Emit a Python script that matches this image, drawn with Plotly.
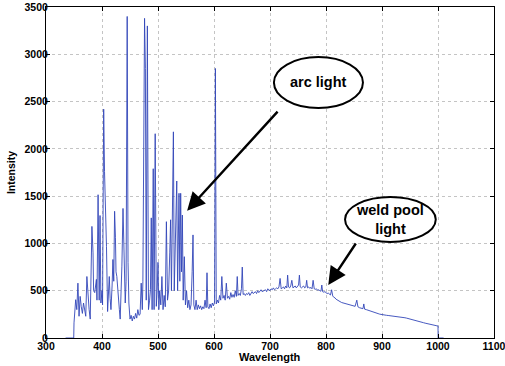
import plotly.graph_objects as go

# Spectrum data (wavelength nm, intensity)
wavelength = [335, 349.5, 350, 352, 353, 355, 357, 359, 361, 363, 365, 367, 369, 371, 373, 375, 377, 379, 380,
              382, 384, 385, 387, 389, 390, 391, 393, 395, 396.5, 398, 400, 401, 403, 404.5, 406.5, 408, 410,
              411.5, 413, 414.5, 416, 418, 419.5, 421, 422.5, 424, 425, 426.5, 428, 429.5, 431, 432.5, 434,
              435.5, 437.5, 439.5, 441.5, 443, 445, 446.5, 448, 450, 452, 454, 456, 458, 460, 462, 464, 466,
              468, 470, 472, 473, 474.5, 476, 477.5, 479, 481, 483, 485, 486.5, 488, 489.5, 491.5, 493, 495,
              497, 498.5, 500, 501.5, 503, 505, 507, 509, 511, 513, 515, 517, 519, 521, 522.5, 524, 526, 527.5,
              529, 531, 533.5, 535, 537.5, 539, 540.5, 542, 543.5, 545, 547, 549, 551, 553, 555, 557, 559,
              561, 562.5, 564, 566, 568, 570, 572, 574, 576, 578, 580, 582, 584, 586, 587.5, 589, 591, 593,
              595, 597, 599, 601, 602.5, 604, 606, 608, 610, 612, 614, 616, 618, 620, 622, 624, 626, 628, 630,
              632, 634, 636, 638, 640, 641.5, 643, 645, 647, 649, 650.5, 652, 654, 656, 658, 660, 662, 664,
              666, 668, 670, 672, 674, 676, 678, 680, 682, 684, 686, 688, 690, 692, 694, 696, 698, 700, 702,
              704, 706, 708, 710, 712, 714, 716, 718, 720, 722, 724, 726, 728, 730, 731.5, 733, 735, 737, 739,
              741, 743, 745, 747, 749, 751, 752.5, 754, 756, 758, 760, 762, 764, 765.5, 767, 769, 771, 773,
              775, 777, 779, 781, 783, 785, 787, 789, 791, 792.5, 794, 796, 798, 800, 802, 804, 806, 808, 810,
              812, 814, 816, 818, 820, 822, 825, 828, 831, 834, 837, 840, 843, 846, 849, 852, 855, 857, 860,
              863, 866, 867.5, 869, 872, 875, 878, 881, 884, 887, 890, 893, 896, 899, 902, 905, 908, 911, 914,
              917, 920, 923, 926, 929, 932, 935, 938, 941, 944, 947, 950, 953, 956, 959, 962, 965, 968, 971,
              974, 977, 980, 983, 986, 989, 992, 995, 998, 1000, 1000.2, 1010]
intensity = [0, 0, 160, 330, 405, 300, 580, 230, 440, 330, 260, 370, 300, 230, 650, 420, 300, 200, 450,
             1180, 900, 500, 480, 560, 620, 400, 1515, 400, 1295, 370, 500, 350, 2420, 1760, 1375, 970, 280,
             500, 650, 420, 300, 550, 830, 600, 1340, 1060, 700, 650, 500, 400, 300, 200, 400,
             760, 1370, 900, 370, 600, 3400, 800, 370, 200, 240, 180, 230, 200, 260, 210, 300, 240,
             250, 580, 300, 600, 2600, 3380, 2850, 400, 3300, 300, 400, 510, 1270, 300, 1790, 300, 2160,
             335, 500, 800, 300, 500, 350, 650, 300, 450, 330, 1230, 400, 500, 900, 1250, 500, 1300, 2180,
             500, 900, 1660, 500, 1530, 600, 1530, 700, 1300, 400, 860, 350, 500, 320, 400, 300, 350,
             700, 1090, 350, 300, 400, 300, 350, 310, 340, 300, 330, 310, 400, 320, 690, 330, 310, 360,
             320, 370, 340, 380, 2850, 360, 400, 370, 450, 400, 650, 420, 450, 400, 580, 420, 440, 410, 480,
             430, 460, 430, 500, 440, 650, 450, 470, 450, 520, 750, 460, 470, 450, 470, 460, 480, 450,
             470, 490, 470, 480, 490, 470, 500, 480, 490, 510, 490, 500, 500, 510, 490, 520, 510, 500, 520,
             510, 530, 510, 520, 530, 520, 540, 630, 520, 530, 540, 520, 550, 530, 665, 540, 530, 550, 610,
             530, 540, 550, 530, 540, 560, 665, 540, 530, 540, 550, 530, 540, 610, 530, 540, 525, 535,
             520, 610, 520, 515, 520, 505, 510, 500, 495, 560, 490, 485, 490, 480, 470, 475, 460, 455, 510,
             445, 430, 425, 410, 400, 395, 385, 375, 370, 360, 360, 355, 350, 345, 340, 335, 400, 330, 320,
             315, 310, 360, 305, 300, 295, 290, 285, 278, 272, 265, 258, 252, 247, 244, 242, 240, 238, 236,
             235, 235, 233, 230, 228, 225, 222, 218, 214, 210, 206, 202, 198, 194, 190, 186, 180, 173, 167,
             162, 157, 152, 148, 144, 140, 136, 132, 129, 127, 0, 0]

x_ticks = [300, 400, 500, 600, 700, 800, 900, 1000, 1100]
y_ticks = [0, 500, 1000, 1500, 2000, 2500, 3000, 3500]

FONT = "Liberation Sans, Arial, Helvetica, sans-serif"

fig = go.Figure()
fig.add_trace(go.Scatter(x=wavelength, y=intensity, mode="lines",
                         line=dict(color="rgb(50,70,185)", width=0.9),
                         showlegend=False, hoverinfo="skip"))

axis_common = dict(showline=True, linecolor="black", linewidth=1, mirror="allticks",
                   ticks="inside", ticklen=4, tickcolor="black", automargin=False,
                   showgrid=True, gridcolor="#c4c4c4", griddash="dot", gridwidth=1,
                   zeroline=False, ticklabeloverflow="allow",
                   tickfont=dict(family=FONT, size=10.5, color="black", weight="bold"))

fig.update_xaxes(range=[300, 1100], tickvals=x_ticks, ticklabelstandoff=-2, **axis_common)
fig.update_yaxes(range=[0, 3500], tickvals=y_ticks, ticklabelstandoff=-5, **axis_common)

# Axis titles
fig.add_annotation(x=0.5, y=-0.057, xref="paper", yref="paper", text="<b>Wavelength</b>",
                   showarrow=False, xanchor="center", yanchor="middle",
                   font=dict(family=FONT, size=11, color="black"))
fig.add_annotation(x=-0.079, y=0.5, xref="paper", yref="paper", text="<b>Intensity</b>",
                   showarrow=False, xanchor="center", yanchor="middle", textangle=-90,
                   font=dict(family=FONT, size=10.5, color="black"))

# Ellipses
fig.add_shape(type="circle", xref="x", yref="y", x0=707, x1=866, y0=2431, y1=2970,
              line=dict(color="black", width=2), fillcolor="white", layer="above")
fig.add_shape(type="circle", xref="x", yref="y", x0=834, x1=996, y0=1015, y1=1490,
              line=dict(color="black", width=2), fillcolor="white", layer="above")

# Labels
fig.add_annotation(x=786, y=2710, xref="x", yref="y", text="<b>arc light</b>", showarrow=False,
                   font=dict(family=FONT, size=14.5, color="black"))
fig.add_annotation(x=915, y=1255, xref="x", yref="y", text="<b>weld pool<br>light</b>", showarrow=False,
                   font=dict(family=FONT, size=14.5, color="black"))

# Arrows
fig.add_annotation(x=552, y=1346, ax=716, ay=2410, xref="x", yref="y", axref="x", ayref="y",
                   text="", showarrow=True, arrowhead=2, arrowsize=1.5, arrowwidth=2.4,
                   arrowcolor="black")
fig.add_annotation(x=804, y=560, ax=855, ay=1015, xref="x", yref="y", axref="x", ayref="y",
                   text="", showarrow=True, arrowhead=2, arrowsize=1.5, arrowwidth=2.4,
                   arrowcolor="black")

fig.update_layout(width=505, height=366, margin=dict(l=45.6, r=11, t=7, b=28),
                  paper_bgcolor="white", plot_bgcolor="white")

# Remove the default 8px body margin so the figure fills the window exactly
fig.write_html("out.html", config={"displayModeBar": False},
               post_script="document.body.style.margin='0';")
